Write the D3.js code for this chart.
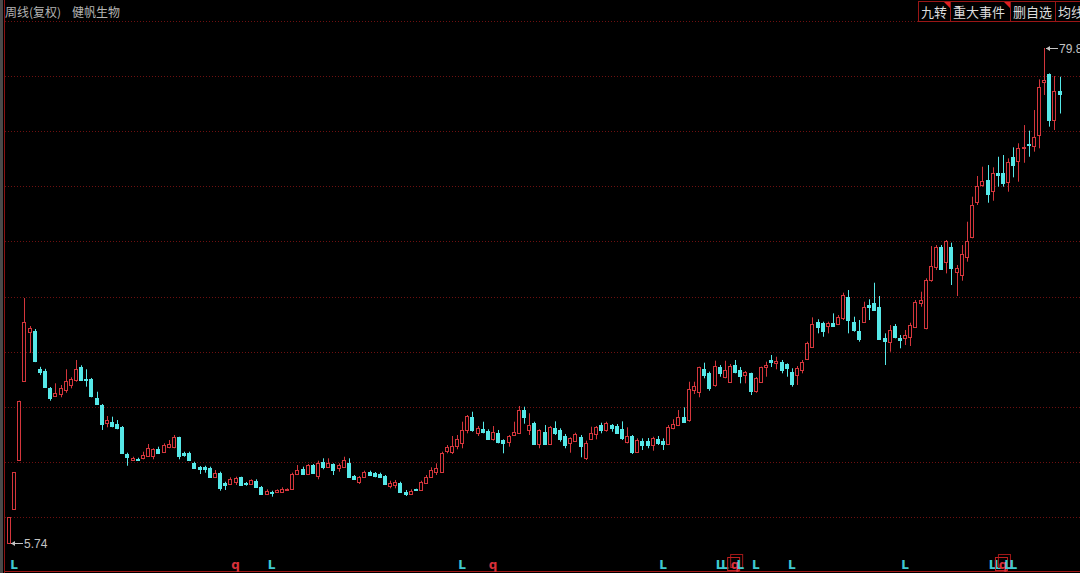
<!DOCTYPE html>
<html>
<head>
<meta charset="utf-8">
<script src="https://cdn.jsdelivr.net/npm/d3@7"></script>
<style>
body { margin: 0; background: #000; overflow: hidden; }
text { font-family: "Noto Sans CJK SC", "Noto Sans", sans-serif; }
</style>
</head>
<body>
<div class="chart"></div>
<script>
var svgWidth = 1080;
var svgHeight = 573;

// weekly candles
var opens = [5.74,10.83,18.16,29.98,37.31,37.5,31.77,31.47,28.88,27.73,28.03,28.63,29.38,30.23,32.12,30.32,30.23,27.39,26.39,23.65,
23.89,23.5,23.14,19.01,18.26,18.35,18.41,18.76,18.65,19.8,19.4,20.15,20.15,21.55,19.16,19.16,17.75,17.16,17.16,17.0,
15.66,16.26,14.76,14.57,14.76,15.57,14.67,14.57,15.06,14.07,13.07,13.41,13.37,13.41,13.56,13.77,16.06,16.77,16.06,17.41,
15.66,17.9,17.16,17.56,17.0,17.16,17.75,15.76,14.76,15.66,16.41,16.17,16.06,15.76,14.27,14.42,14.76,13.41,13.07,13.77,
13.67,14.76,15.66,16.26,16.41,19.4,19.4,20.15,20.73,22.65,24.64,22.15,22.75,22.47,21.4,22.24,21.15,20.9,21.9,22.24,
25.64,22.65,23.65,20.55,22.39,20.55,22.9,22.65,21.75,20.65,21.05,21.55,18.46,21.4,22.15,23.39,22.65,23.39,23.24,22.75,
20.9,21.75,19.4,21.05,21.05,20.4,21.25,21.05,20.55,22.9,23.39,24.64,24.04,28.63,28.22,31.73,31.13,29.38,32.02,30.62,
29.87,32.37,31.62,30.87,31.13,28.37,29.87,32.07,33.12,32.72,32.87,32.52,31.37,30.87,31.62,33.22,35.11,38.85,38.61,38.1,
38.61,38.61,39.36,42.59,38.85,37.5,38.85,41.34,41.69,41.09,36.36,35.86,38.2,36.36,36.36,36.6,38.1,41.6,37.86,45.09,
47.08,50.07,47.83,49.98,46.28,45.84,48.58,51.47,56.8,59.3,60.05,58.45,61.14,61.05,59.8,63.53,62.79,64.79,65.43,65.13,
66.78,74.71,75.9,69.0,73.4];
var highs = [9.63,16.36,27.03,42.39,38.2,37.76,32.1,31.8,29.08,29.63,29.38,31.73,30.53,33.12,32.33,31.73,30.43,28.37,26.54,24.74,
24.64,24.14,23.24,19.25,18.65,18.5,19.4,20.55,19.91,20.15,20.65,21.15,21.9,21.64,19.4,19.4,17.9,17.26,17.3,17.16,
16.66,16.41,14.91,15.57,15.66,15.66,14.87,15.27,15.27,14.27,13.77,13.56,13.77,14.07,13.92,16.26,17.41,17.16,17.56,17.56,
18.05,18.41,18.41,17.66,17.66,18.65,18.41,15.91,15.76,16.56,16.56,16.36,16.26,15.91,15.06,15.17,14.91,13.67,13.77,13.86,
15.06,15.91,17.07,17.66,19.4,20.4,21.75,21.9,23.89,24.89,25.38,23.24,23.89,22.75,23.24,22.65,21.25,21.9,23.89,26.24,
26.13,25.15,23.89,22.75,23.39,23.24,23.94,22.9,22.05,21.55,22.24,21.9,21.05,23.14,23.24,23.74,23.89,23.54,23.54,23.94,
23.05,21.9,21.4,21.4,21.45,21.64,21.75,21.4,23.39,24.25,25.64,26.04,29.87,29.87,32.12,32.72,31.38,33.02,32.37,33.01,
32.52,33.12,32.07,31.47,31.22,30.57,32.12,32.87,33.87,33.61,33.12,32.62,31.88,32.22,33.12,35.86,39.5,39.21,38.85,38.85,
40.1,39.85,43.19,43.59,39.6,39.1,41.84,42.2,44.68,42.69,37.11,38.35,38.5,36.86,37.61,38.7,42.09,43.34,45.34,50.17,
50.32,50.32,51.07,50.67,47.33,50.32,53.81,57.55,60.65,62.04,62.29,61.95,63.53,63.79,63.29,64.94,65.54,68.27,67.43,70.52,
75.11,79.8,76.0,75.6,75.5];
var lows = [5.74,10.83,18.16,29.98,34.16,32.8,30.87,29.03,27.03,27.58,27.54,28.22,28.88,29.87,30.02,29.13,27.54,26.44,22.65,23.05,
23.05,22.75,19.16,17.3,18.05,18.1,18.26,18.65,18.26,19.05,19.25,19.91,19.91,18.26,18.65,18.0,16.92,16.06,16.26,15.57,
15.51,13.56,13.67,14.42,14.42,14.37,14.31,14.42,14.07,12.92,12.92,12.67,13.26,13.26,13.52,13.67,15.91,15.91,15.96,16.06,
15.27,16.77,17.07,15.91,16.41,17.07,15.57,15.17,14.57,15.57,15.76,15.57,15.57,14.42,13.92,13.92,13.26,12.77,12.92,13.52,
13.56,14.67,15.57,15.91,16.26,19.16,19.05,19.76,19.91,22.15,22.39,21.75,22.15,21.15,21.05,20.65,19.16,20.15,21.75,22.15,
23.59,21.9,20.4,19.91,20.4,20.4,21.9,20.9,19.91,19.25,20.9,18.56,18.16,21.25,21.25,22.15,22.39,22.39,22.15,21.15,
20.65,19.05,19.25,19.65,19.91,19.55,20.4,19.65,20.4,22.75,23.24,23.74,23.89,28.03,27.54,30.38,28.52,29.13,30.62,30.38,
29.72,31.13,29.63,29.63,27.88,28.22,29.72,30.62,32.07,31.73,31.13,30.62,29.13,29.38,31.13,33.12,35.02,37.11,36.6,37.11,
38.1,38.5,39.1,37.11,37.35,35.86,38.7,39.1,40.5,36.11,32.37,34.36,36.36,34.87,35.36,35.21,38.01,41.09,37.71,44.83,
46.58,46.69,46.08,44.34,42.69,44.98,47.83,51.33,56.31,59.05,56.65,56.95,59.05,59.05,58.3,60.45,59.8,62.63,63.53,64.29,
64.79,72.77,68.03,67.53,70.0];
var closes = [9.63,16.36,27.03,38.85,37.9,33.0,31.32,29.13,27.39,28.22,28.88,30.02,30.23,31.82,30.23,30.13,27.63,26.54,23.54,24.14,
23.24,22.84,19.25,18.56,18.5,18.26,18.9,19.91,19.76,19.16,20.4,20.55,21.64,18.65,18.8,18.05,17.07,16.92,16.92,15.66,
16.26,14.07,14.42,15.27,15.42,14.42,14.47,15.17,14.16,13.07,13.52,13.26,13.67,13.82,13.77,16.06,16.66,16.06,17.41,16.17,
17.66,17.16,17.75,16.66,17.41,18.16,15.66,15.27,15.57,16.41,16.02,15.66,15.66,14.57,14.76,14.91,13.41,13.07,13.56,13.56,
14.91,15.66,16.66,16.92,19.25,20.06,20.25,21.25,22.65,24.74,22.65,22.9,22.24,21.25,22.39,20.9,20.75,21.75,22.39,25.64,
24.64,23.4,20.55,22.65,20.55,23.14,22.15,21.25,20.4,21.4,22.05,20.15,20.7,22.24,23.14,22.65,23.65,22.9,22.24,21.4,
21.75,19.4,21.15,20.4,20.4,21.4,20.65,20.55,23.05,23.54,24.64,23.89,28.73,29.23,32.03,30.87,28.88,32.22,31.13,31.62,
32.22,31.37,30.72,31.37,28.37,30.38,32.07,32.37,32.87,33.01,31.62,31.88,29.63,31.88,32.87,35.62,38.5,38.1,37.35,38.61,
38.2,39.6,42.84,39.1,37.61,36.36,41.09,41.09,40.6,36.36,35.86,37.61,36.6,36.11,36.86,38.35,41.84,42.09,45.09,47.18,
50.07,46.84,50.97,46.84,46.88,48.98,50.97,56.31,59.15,59.94,57.95,61.14,60.8,59.55,62.79,62.29,64.79,64.94,65.28,66.52,
74.0,75.01,69.0,73.4,72.9];

// signal letters under the candles (candle index, letter)
var markIndex = [1, 44, 51, 88, 94, 127, 138, 139, 141, 142, 145, 152, 174, 191, 192, 193, 194, 195];
var markText  = ["L","q","L","L","q","L","L","L","q","L","L","L","L","L","L","q","L","L"];
var markBoxed = [141, 193];

var titleLeft = "周线(复权)";
var titleName = "健帆生物";
var buttons = ["九转", "重大事件", "删自选", "均线"];

var red = "#d4363c";
var cyan = "#56e8e8";
var gridRed = "#6e1010";

var svg = d3.select(".chart")
    .append("svg")
    .attr("width", svgWidth)
    .attr("height", svgHeight)
    .style("display", "block")
    .style("background", "#000");

var plotTop = 21, plotBottom = 572;

var n = opens.length;
var x = d3.scaleLinear().domain([0, n - 1]).range([9, 1059.6]);
var y = d3.scaleLinear().domain([5.74, 79.8]).range([543, 48]);

// left strip and frame
svg.append("rect").attr("x", 0).attr("y", 0).attr("width", 3).attr("height", svgHeight).attr("fill", "#4a4a4a");
svg.append("line").attr("x1", 4.5).attr("x2", 4.5).attr("y1", 0).attr("y2", svgHeight)
    .attr("stroke", "#8a1414").attr("stroke-width", 1);

// horizontal dotted grid, 10 equal rows
var rows = d3.range(0, 10).map(function(k) { return plotTop + k * (plotBottom - plotTop) / 10; });
svg.append("g").selectAll("line")
    .data(rows)
    .enter()
    .append("line")
    .attr("x1", 5).attr("x2", svgWidth)
    .attr("y1", function(d) { return Math.round(d) + 0.5; })
    .attr("y2", function(d) { return Math.round(d) + 0.5; })
    .attr("stroke", gridRed)
    .attr("stroke-dasharray", "1,2");

svg.append("line").attr("x1", 5).attr("x2", svgWidth).attr("y1", 571.5).attr("y2", 571.5)
    .attr("stroke", "#a01818");

// candles
var idx = d3.range(n);
var chartGroup = svg.append("g");
var bw = 3;

chartGroup.selectAll(".wick")
    .data(idx)
    .enter()
    .append("line")
    .attr("x1", function(i) { return Math.round(x(i)) + 0.5; })
    .attr("x2", function(i) { return Math.round(x(i)) + 0.5; })
    .attr("y1", function(i) { return y(highs[i]); })
    .attr("y2", function(i) { return y(lows[i]); })
    .attr("stroke", function(i) { return closes[i] >= opens[i] ? red : cyan; })
    .attr("stroke-width", 1);

chartGroup.selectAll(".body")
    .data(idx)
    .enter()
    .append("rect")
    .attr("x", function(i) { return Math.round(x(i)) - 1.5; })
    .attr("y", function(i) { return Math.round(y(Math.max(opens[i], closes[i]))) + 0.5; })
    .attr("width", bw)
    .attr("height", function(i) { return Math.max(1, Math.round(Math.abs(y(opens[i]) - y(closes[i])))); })
    .attr("fill", function(i) { return closes[i] >= opens[i] ? "#000" : cyan; })
    .attr("stroke", function(i) { return closes[i] >= opens[i] ? red : cyan; })
    .attr("stroke-width", 1);

// extreme labels
function extremeLabel(i, v) {
    var x0 = Math.round(x(i)) + 2, yy = Math.round(y(v)) + 0.5;
    var g = svg.append("g").attr("fill", "#c4c4c4").attr("stroke", "#c4c4c4");
    g.append("line").attr("x1", x0).attr("x2", x0 + 12).attr("y1", yy).attr("y2", yy);
    g.append("path").attr("d", "M" + x0 + "," + yy + "l4,-2.5v5z").attr("stroke", "none");
    g.append("text").attr("x", x0 + 13).attr("y", yy + 4.5)
        .attr("stroke", "none")
        .style("font-family", "'Liberation Sans', Arial, sans-serif")
        .style("font-size", "12px")
        .text(v.toFixed(v < 10 ? 2 : 1));
}
var iMin = d3.minIndex(lows), iMax = d3.maxIndex(highs);
extremeLabel(iMin, lows[iMin]);
extremeLabel(iMax, highs[iMax]);

// signal letters
var marks = svg.append("g");
markIndex.forEach(function(i, k) {
    var cx = x(i);
    if (markBoxed.indexOf(i) >= 0) {
        marks.append("rect").attr("x", cx - 4.5).attr("y", 554.5).attr("width", 12).attr("height", 13)
            .attr("fill", "none").attr("stroke", "#a01818");
        marks.append("rect").attr("x", cx - 7.5).attr("y", 557.5).attr("width", 12).attr("height", 13)
            .attr("fill", "none").attr("stroke", "#c02020");
    }
    marks.append("text")
        .attr("x", cx)
        .attr("y", 569)
        .attr("text-anchor", "middle")
        .style("font-family", "'DejaVu Sans', sans-serif")
        .style("font-size", "12px")
        .style("font-weight", "bold")
        .attr("fill", markText[k] === "q" ? "#d8303a" : "#3fc8d0")
        .text(markText[k]);
});

// title
svg.append("text").attr("x", 5).attr("y", 17).attr("fill", "#b4b4b4")
    .style("font-size", "12px").text(titleLeft);
svg.append("text").attr("x", 72).attr("y", 17).attr("fill", "#b4b4b4")
    .style("font-size", "12px").text(titleName);

// buttons on the top right
var bx = [918, 950, 1010, 1055];
var bwid = [32, 60, 45, 40];
var btn = svg.append("g");
buttons.forEach(function(b, k) {
    btn.append("rect").attr("x", bx[k] + 0.5).attr("y", 1.5).attr("width", bwid[k]).attr("height", 20)
        .attr("fill", "#000").attr("stroke", "#9a1616");
    btn.append("text").attr("x", bx[k] + 3).attr("y", 17).attr("fill", "#dcdcdc")
        .style("font-size", "13px").text(b);
    if (k < 2) {
        btn.append("path").attr("d", "M" + (bx[k] + bwid[k] - 6) + ",2h6v6z").attr("fill", "#e02020");
    }
});
</script>
</body>
</html>
